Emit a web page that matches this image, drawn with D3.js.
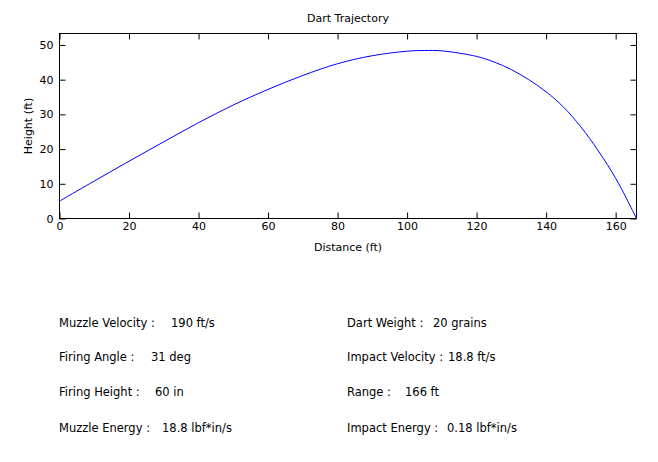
<!DOCTYPE html>
<html>
<head>
<meta charset="utf-8">
<script src="https://cdn.jsdelivr.net/npm/d3@7"></script>
<style>
  body { margin: 0; background: #fff; }
  svg { font-family: "DejaVu Sans", sans-serif; font-size: 11px; }
  .info { font-family: "DejaVu Sans", sans-serif; font-size: 11.5px; }
</style>
</head>
<body>
<svg id="chart" width="658" height="462"></svg>
<script>
// trajectory (ft)
const distance = [0, 10, 20, 30, 40, 50, 60, 70, 80, 90, 100, 105, 110, 120, 125, 130, 135, 140, 145, 150, 155, 160, 163, 166];
const height = [5.0, 10.8, 16.5, 22.1, 27.6, 32.7, 37.2, 41.2, 44.6, 46.9, 48.2, 48.4, 48.3, 46.7, 45.1, 42.9, 40.0, 36.5, 32.1, 26.4, 19.5, 11.6, 6.0, 0];

const xTicks = [0, 20, 40, 60, 80, 100, 120, 140, 160];
const yTicks = [0, 10, 20, 30, 40, 50];

const leftLabels = ["Muzzle Velocity :", "Firing Angle :", "Firing Height :", "Muzzle Energy :"];
const leftValues = ["190 ft/s", "31 deg", "60 in", "18.8 lbf*in/s"];
const rightLabels = ["Dart Weight :", "Impact Velocity :", "Range :", "Impact Energy :"];
const rightValues = ["20 grains", "18.8 ft/s", "166 ft", "0.18 lbf*in/s"];

const svg = d3.select("#chart");

const axLeft = 59.5, axRight = 636.5, axTop = 33.5, axBottom = 218.5;
const tickLen = 6;

const x = d3.scaleLinear().domain([0, 166]).range([axLeft, axRight]);
const y = d3.scaleLinear().domain([0, 53.3]).range([axBottom, axTop]);

// box
svg.append("rect")
  .attr("x", axLeft).attr("y", axTop)
  .attr("width", axRight - axLeft).attr("height", axBottom - axTop)
  .attr("fill", "white").attr("stroke", "black").attr("stroke-width", 1);

// x axis, ticks pointing inward
svg.append("g")
  .attr("transform", "translate(0," + axBottom + ")")
  .call(d3.axisBottom(x).tickValues(xTicks).tickSize(-tickLen).tickSizeOuter(0).tickPadding(4))
  .call(g => g.select(".domain").remove());

svg.append("g")
  .attr("transform", "translate(0," + axTop + ")")
  .call(d3.axisTop(x).tickValues(xTicks).tickSize(-tickLen).tickSizeOuter(0).tickFormat(""))
  .call(g => g.select(".domain").remove());

// y axis
svg.append("g")
  .attr("transform", "translate(" + axLeft + ",0)")
  .call(d3.axisLeft(y).tickValues(yTicks).tickSize(-tickLen).tickSizeOuter(0).tickPadding(6))
  .call(g => g.select(".domain").remove());

svg.append("g")
  .attr("transform", "translate(" + axRight + ",0)")
  .call(d3.axisRight(y).tickValues(yTicks).tickSize(-tickLen).tickSizeOuter(0).tickFormat(""))
  .call(g => g.select(".domain").remove());

svg.selectAll(".tick text")
  .attr("font-family", "DejaVu Sans, sans-serif")
  .attr("font-size", 11)
  .attr("fill", "black");
svg.selectAll(".tick line").attr("stroke", "black");

// trajectory
const line = d3.line()
  .x((d, i) => x(distance[i]))
  .y(d => y(d))
  .curve(d3.curveCatmullRom);

svg.append("path")
  .datum(height)
  .attr("fill", "none")
  .attr("stroke", "#0000ff")
  .attr("stroke-width", 1)
  .attr("d", line);

// titles
svg.append("text")
  .attr("x", (axLeft + axRight) / 2).attr("y", 22)
  .attr("text-anchor", "middle")
  .text("Dart Trajectory");

svg.append("text")
  .attr("x", (axLeft + axRight) / 2).attr("y", 251)
  .attr("text-anchor", "middle")
  .text("Distance (ft)");

svg.append("text")
  .attr("transform", "translate(32," + (axTop + axBottom) / 2 + ") rotate(-90)")
  .attr("text-anchor", "middle")
  .text("Height (ft)");

// info block
const rowY = [327, 361, 396, 432];
const leftValueX = [171, 151, 155, 162];
const rightValueX = [433, 448, 405, 447];

const info = svg.append("g").attr("class", "info");
leftLabels.forEach(function (t, i) {
  info.append("text").attr("x", 59).attr("y", rowY[i]).text(t);
  info.append("text").attr("x", leftValueX[i]).attr("y", rowY[i]).text(leftValues[i]);
});
rightLabels.forEach(function (t, i) {
  info.append("text").attr("x", 347).attr("y", rowY[i]).text(t);
  info.append("text").attr("x", rightValueX[i]).attr("y", rowY[i]).text(rightValues[i]);
});
</script>
</body>
</html>
